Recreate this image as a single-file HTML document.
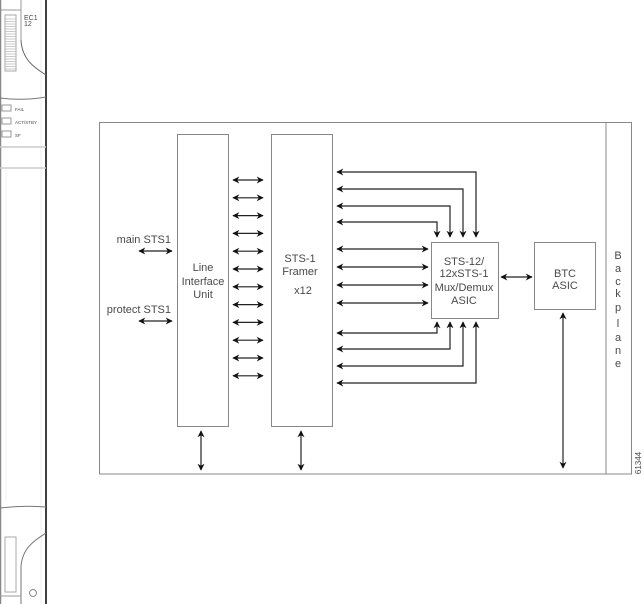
<!DOCTYPE html>
<html><head><meta charset="utf-8"><style>
html,body{margin:0;padding:0;background:#fff;}
svg{display:block;}
text{font-family:"Liberation Sans",Arial,sans-serif;fill:#4a4a4a;}
</style></head><body>
<svg width="644" height="604" viewBox="0 0 644 604" xmlns="http://www.w3.org/2000/svg">
<defs>
<marker id="a" viewBox="0 0 10 10" refX="9" refY="5" markerWidth="8.5" markerHeight="7" orient="auto-start-reverse" markerUnits="userSpaceOnUse"><path d="M0,0 L10,5 L0,10 L3,5 z" fill="#111"/></marker>
</defs>
<!-- left card -->
<g fill="none" stroke="#999" stroke-width="1">
<line x1="0.5" y1="0" x2="0.5" y2="604" stroke="#888" stroke-width="1.5"/>
<line x1="46" y1="0" x2="46" y2="604" stroke="#000" stroke-width="1.5"/>
<line x1="41" y1="0" x2="41" y2="604" stroke="#eee"/>
<line x1="6" y1="170" x2="6" y2="500" stroke="#f2f2f2"/>
<line x1="0" y1="10" x2="21" y2="10"/>
<line x1="21" y1="0" x2="21" y2="40"/>
<path d="M21,40 C22,60 35,68 46,75" stroke="#666"/>
<rect x="5" y="15" width="11" height="56" stroke="#aaa"/>
<path d="M5,19H16M5,21.5H16M5,24H16M5,26.5H16M5,29H16M5,31.5H16M5,34H16M5,36.5H16M5,39H16M5,41.5H16M5,44H16M5,46.5H16M5,49H16M5,51.5H16M5,54H16M5,56.5H16M5,59H16M5,61.5H16M5,64H16M5,66.5H16M5,69H16" stroke="#bbb" stroke-width="0.7"/>
<path d="M0,98 Q23,101 46,97" stroke="#777"/>
<rect x="2" y="105" width="9" height="6"/>
<rect x="2" y="118" width="9" height="6"/>
<rect x="2" y="131" width="9" height="6"/>
<line x1="0" y1="147" x2="46" y2="147" stroke="#ccc" stroke-width="1.5"/>
<line x1="0" y1="168" x2="46" y2="168" stroke="#ccc" stroke-width="1.5"/>
<path d="M0,508 Q23,505 46,507" stroke="#777"/>
<rect x="5" y="537" width="11" height="55" stroke="#aaa"/>
<path d="M46,533 C35,540 22,548 21,567 L21,604" stroke="#777"/>
<circle cx="33" cy="593" r="3.5" stroke="#888"/>
<line x1="0" y1="596" x2="21" y2="596"/>
</g>
<text x="24" y="20" font-size="7" fill="#888">EC1</text>
<text x="24" y="26" font-size="7" fill="#888">12</text>
<text x="15" y="111" font-size="4.5" fill="#999">FAIL</text>
<text x="15" y="124" font-size="4.5" fill="#999">ACT/STBY</text>
<text x="15" y="137" font-size="4.5" fill="#999">SF</text>

<!-- main frame -->
<g fill="none" stroke="#888" stroke-width="1">
<rect x="99.5" y="122.5" width="532" height="351.5"/>
<line x1="606" y1="122.5" x2="606" y2="474"/>
<rect x="177.5" y="134.5" width="51" height="292"/>
<rect x="271.5" y="134.5" width="61" height="292"/>
<rect x="431.5" y="242.5" width="67" height="76"/>
<rect x="534.5" y="242.5" width="61" height="67"/>
</g>

<!-- arrows -->
<g stroke="#222" stroke-width="1.2" fill="none">
<line x1="233" y1="180" x2="263" y2="180" marker-start="url(#a)" marker-end="url(#a)"/>
<line x1="233" y1="197.8" x2="263" y2="197.8" marker-start="url(#a)" marker-end="url(#a)"/>
<line x1="233" y1="215.6" x2="263" y2="215.6" marker-start="url(#a)" marker-end="url(#a)"/>
<line x1="233" y1="233.4" x2="263" y2="233.4" marker-start="url(#a)" marker-end="url(#a)"/>
<line x1="233" y1="251.2" x2="263" y2="251.2" marker-start="url(#a)" marker-end="url(#a)"/>
<line x1="233" y1="269" x2="263" y2="269" marker-start="url(#a)" marker-end="url(#a)"/>
<line x1="233" y1="286.8" x2="263" y2="286.8" marker-start="url(#a)" marker-end="url(#a)"/>
<line x1="233" y1="304.6" x2="263" y2="304.6" marker-start="url(#a)" marker-end="url(#a)"/>
<line x1="233" y1="322.4" x2="263" y2="322.4" marker-start="url(#a)" marker-end="url(#a)"/>
<line x1="233" y1="340.2" x2="263" y2="340.2" marker-start="url(#a)" marker-end="url(#a)"/>
<line x1="233" y1="358" x2="263" y2="358" marker-start="url(#a)" marker-end="url(#a)"/>
<line x1="233" y1="375.8" x2="263" y2="375.8" marker-start="url(#a)" marker-end="url(#a)"/>
<line x1="139" y1="251" x2="172" y2="251" marker-start="url(#a)" marker-end="url(#a)"/>
<line x1="139" y1="321" x2="172" y2="321" marker-start="url(#a)" marker-end="url(#a)"/>
<line x1="201" y1="431" x2="201" y2="470" marker-start="url(#a)" marker-end="url(#a)"/>
<line x1="301" y1="431" x2="301" y2="470" marker-start="url(#a)" marker-end="url(#a)"/>
<line x1="563" y1="313" x2="563" y2="468" marker-start="url(#a)" marker-end="url(#a)"/>
<polyline points="476,237 476,172 337,172" marker-start="url(#a)" marker-end="url(#a)"/>
<polyline points="463,237 463,189 337,189" marker-start="url(#a)" marker-end="url(#a)"/>
<polyline points="450,237 450,206 337,206" marker-start="url(#a)" marker-end="url(#a)"/>
<polyline points="437,237 437,222 337,222" marker-start="url(#a)" marker-end="url(#a)"/>
<line x1="337" y1="249" x2="428" y2="249" marker-start="url(#a)" marker-end="url(#a)"/>
<line x1="337" y1="267" x2="428" y2="267" marker-start="url(#a)" marker-end="url(#a)"/>
<line x1="337" y1="285" x2="428" y2="285" marker-start="url(#a)" marker-end="url(#a)"/>
<line x1="337" y1="303" x2="428" y2="303" marker-start="url(#a)" marker-end="url(#a)"/>
<polyline points="437,322 437,333 337,333" marker-start="url(#a)" marker-end="url(#a)"/>
<polyline points="450,322 450,349 337,349" marker-start="url(#a)" marker-end="url(#a)"/>
<polyline points="463,322 463,366 337,366" marker-start="url(#a)" marker-end="url(#a)"/>
<polyline points="476,322 476,383 337,383" marker-start="url(#a)" marker-end="url(#a)"/>
<line x1="501" y1="277" x2="532" y2="277" marker-start="url(#a)" marker-end="url(#a)"/>
</g>

<!-- labels -->
<g font-size="11">
<text x="171" y="243" text-anchor="end">main STS1</text>
<text x="171" y="313" text-anchor="end">protect STS1</text>
<text x="203" y="271" text-anchor="middle">Line</text>
<text x="203" y="285" text-anchor="middle">Interface</text>
<text x="203" y="298" text-anchor="middle">Unit</text>
<text x="300" y="262" text-anchor="middle">STS-1</text>
<text x="300" y="275" text-anchor="middle">Framer</text>
<text x="303" y="294" text-anchor="middle">x12</text>
<text x="464" y="265" text-anchor="middle">STS-12/</text>
<text x="464" y="277" text-anchor="middle">12xSTS-1</text>
<text x="464" y="291" text-anchor="middle">Mux/Demux</text>
<text x="464" y="304" text-anchor="middle">ASIC</text>
<text x="565" y="277" text-anchor="middle">BTC</text>
<text x="565" y="289" text-anchor="middle">ASIC</text>
<g text-anchor="middle">
<text x="618" y="259">B</text>
<text x="618" y="272">a</text>
<text x="618" y="285">c</text>
<text x="618" y="297">k</text>
<text x="618" y="311">p</text>
<text x="618" y="327">l</text>
<text x="618" y="341">a</text>
<text x="618" y="354">n</text>
<text x="618" y="367">e</text>
</g>
</g>
<text x="0" y="0" font-size="8" fill="#777" text-anchor="middle" transform="translate(641,463) rotate(-90)">61344</text>
</svg>
</body></html>
